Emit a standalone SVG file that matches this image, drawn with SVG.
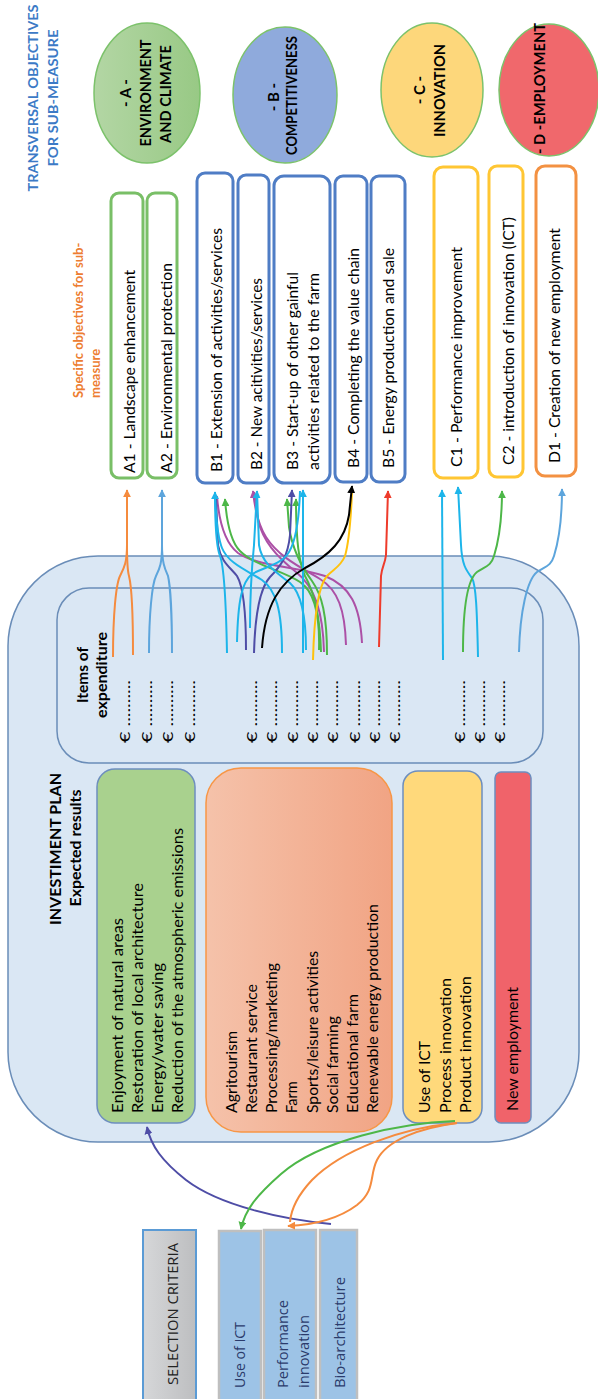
<svg xmlns="http://www.w3.org/2000/svg" width="598" height="1399" viewBox="0 0 598 1399">
<style>
.t{font-family:Lato,"Liberation Sans",sans-serif;fill:#000;font-size:14.5px}
.b{font-weight:bold}
.title{font-family:Lato,"Liberation Sans",sans-serif;font-weight:bold;fill:#3C7AC6;font-size:14px}
.spec{font-family:Lato,"Liberation Sans",sans-serif;font-weight:bold;fill:#ED7D31;font-size:13px}
.ov{font-family:Lato,"Liberation Sans",sans-serif;font-weight:bold;fill:#000;font-size:15px}
.sc{font-family:"Open Sans","Liberation Sans",sans-serif;font-size:14px;fill:#2B3B6B}
.eur{font-family:Lato,"Liberation Sans",sans-serif;font-size:14px;fill:#000}
.boxA{fill:#fff;stroke:#79BF67;stroke-width:3}
.boxB{fill:#fff;stroke:#4F7DC5;stroke-width:3}
.boxC{fill:#fff;stroke:#FFC633;stroke-width:3}
.boxD{fill:#fff;stroke:#F39142;stroke-width:3}
.cont{fill:#DAE7F4;stroke:#6A8DB8;stroke-width:1.5}
.res{stroke:#6D8EBE;stroke-width:1.5}
.crit{fill:#9DC3E6;stroke:#BFBFBF;stroke-width:2.5}
#connectors path{fill:none;stroke-width:2}
</style>
<defs>
<linearGradient id="gA" x1="0" x2="1" y1="0" y2="0"><stop offset="0" stop-color="#B3D6A4"/><stop offset="1" stop-color="#98C985"/></linearGradient>
<linearGradient id="gO" x1="0" x2="1" y1="0" y2="0"><stop offset="0" stop-color="#F5C2AA"/><stop offset="1" stop-color="#F1A484"/></linearGradient>
<linearGradient id="gS" x1="0" x2="1" y1="0" y2="0"><stop offset="0" stop-color="#D6D7D9"/><stop offset="1" stop-color="#BDBEC0"/></linearGradient>
<marker id="mOr" viewBox="0 0 10 10" refX="9" refY="5" markerWidth="8" markerHeight="8" markerUnits="userSpaceOnUse" orient="auto"><path d="M0,0 L10,5 L0,10 z" fill="#F58B3E"/></marker>
<marker id="mLb" viewBox="0 0 10 10" refX="9" refY="5" markerWidth="8" markerHeight="8" markerUnits="userSpaceOnUse" orient="auto"><path d="M0,0 L10,5 L0,10 z" fill="#5DA5DC"/></marker>
<marker id="mCy" viewBox="0 0 10 10" refX="9" refY="5" markerWidth="8" markerHeight="8" markerUnits="userSpaceOnUse" orient="auto"><path d="M0,0 L10,5 L0,10 z" fill="#1DB5EA"/></marker>
<marker id="mGr" viewBox="0 0 10 10" refX="9" refY="5" markerWidth="8" markerHeight="8" markerUnits="userSpaceOnUse" orient="auto"><path d="M0,0 L10,5 L0,10 z" fill="#4DB748"/></marker>
<marker id="mMg" viewBox="0 0 10 10" refX="9" refY="5" markerWidth="8" markerHeight="8" markerUnits="userSpaceOnUse" orient="auto"><path d="M0,0 L10,5 L0,10 z" fill="#AC50A6"/></marker>
<marker id="mIn" viewBox="0 0 10 10" refX="9" refY="5" markerWidth="8" markerHeight="8" markerUnits="userSpaceOnUse" orient="auto"><path d="M0,0 L10,5 L0,10 z" fill="#4E4DA6"/></marker>
<marker id="mBk" viewBox="0 0 10 10" refX="9" refY="5" markerWidth="8" markerHeight="8" markerUnits="userSpaceOnUse" orient="auto"><path d="M0,0 L10,5 L0,10 z" fill="#000"/></marker>
<marker id="mRd" viewBox="0 0 10 10" refX="9" refY="5" markerWidth="8" markerHeight="8" markerUnits="userSpaceOnUse" orient="auto"><path d="M0,0 L10,5 L0,10 z" fill="#EE3B2B"/></marker>
</defs>

<g id="titles">
<text class="title" transform="translate(37.5,98) rotate(-90)" text-anchor="middle" textLength="187" lengthAdjust="spacingAndGlyphs">TRANSVERSAL OBJECTIVES</text>
<text class="title" transform="translate(58,98) rotate(-90)" text-anchor="middle" textLength="137" lengthAdjust="spacingAndGlyphs">FOR SUB-MEASURE</text>
<text class="spec" transform="translate(83,398) rotate(-90)">Specific objectives for sub-</text>
<text class="spec" transform="translate(100,398) rotate(-90)">measure</text>
</g>

<g id="objA">
<ellipse cx="147" cy="93" rx="53" ry="70" fill="url(#gA)" stroke="#7CC26B" stroke-width="1.5"/>
<text class="ov" transform="translate(131,93) rotate(-90)" text-anchor="middle">- A -</text>
<text class="ov" transform="translate(151,93) rotate(-90)" text-anchor="middle" textLength="107" lengthAdjust="spacingAndGlyphs">ENVIRONMENT</text>
<text class="ov" transform="translate(171,94) rotate(-90)" text-anchor="middle" textLength="98" lengthAdjust="spacingAndGlyphs">AND CLIMATE</text>
</g>
<g id="objB">
<ellipse cx="285" cy="95" rx="52" ry="68" fill="#8FAADC" stroke="#7CC26B" stroke-width="1.5"/>
<text class="ov" transform="translate(279,97) rotate(-90)" text-anchor="middle">- B -</text>
<text class="ov" transform="translate(297,95.5) rotate(-90)" text-anchor="middle" textLength="119" lengthAdjust="spacingAndGlyphs">COMPETITIVENESS</text>
</g>
<g id="objC">
<ellipse cx="432" cy="90" rx="51" ry="67" fill="#FDD77B" stroke="#7CC26B" stroke-width="1.5"/>
<text class="ov" transform="translate(425,90) rotate(-90)" text-anchor="middle">- C -</text>
<text class="ov" transform="translate(445,90.5) rotate(-90)" text-anchor="middle" textLength="93" lengthAdjust="spacingAndGlyphs">INNOVATION</text>
</g>
<g id="objD">
<ellipse cx="549" cy="90" rx="50" ry="66" fill="#F0686C" stroke="#7CC26B" stroke-width="1.5"/>
<text class="ov" transform="translate(545,88.5) rotate(-90)" text-anchor="middle" textLength="131" lengthAdjust="spacingAndGlyphs">- D -EMPLOYMENT</text>
</g>

<g id="A1"><rect class="boxA" x="111" y="193" width="32" height="285" rx="8"/>
<text class="t" transform="translate(135,473) rotate(-90)" textLength="203" lengthAdjust="spacingAndGlyphs">A1 - Landscape enhancement</text></g>
<g id="A2"><rect class="boxA" x="147" y="193" width="30" height="285" rx="8"/>
<text class="t" transform="translate(172,473) rotate(-90)" textLength="210" lengthAdjust="spacingAndGlyphs">A2 - Environmental protection</text></g>
<g id="B1"><rect class="boxB" x="197" y="173" width="36" height="310" rx="8"/>
<text class="t" transform="translate(222,472) rotate(-90)" textLength="244" lengthAdjust="spacingAndGlyphs">B1 - Extension of activities/services</text></g>
<g id="B2"><rect class="boxB" x="238" y="175" width="31" height="308" rx="8"/>
<text class="t" transform="translate(262,470) rotate(-90)" textLength="192" lengthAdjust="spacingAndGlyphs">B2 - New acitivities/services</text></g>
<g id="B3"><rect class="boxB" x="274" y="176" width="56" height="307" rx="10"/>
<text class="t" transform="translate(298,470) rotate(-90)" textLength="198" lengthAdjust="spacingAndGlyphs">B3 - Start-up of other gainful</text>
<text class="t" transform="translate(319,470) rotate(-90)" textLength="197" lengthAdjust="spacingAndGlyphs">activities related to the farm</text></g>
<g id="B4"><rect class="boxB" x="335" y="176" width="32" height="306" rx="8"/>
<text class="t" transform="translate(359,468) rotate(-90)" textLength="220" lengthAdjust="spacingAndGlyphs">B4 - Completing the value chain</text></g>
<g id="B5"><rect class="boxB" x="371" y="176" width="34" height="306" rx="8"/>
<text class="t" transform="translate(394,468) rotate(-90)" textLength="220" lengthAdjust="spacingAndGlyphs">B5 - Energy production and sale</text></g>
<g id="C1"><rect class="boxC" x="434" y="167" width="44" height="311" rx="9"/>
<text class="t" transform="translate(462,467) rotate(-90)" textLength="220" lengthAdjust="spacingAndGlyphs">C1 - Performance improvement</text></g>
<g id="C2"><rect class="boxC" x="489" y="166" width="34" height="311" rx="8"/>
<text class="t" transform="translate(514,465) rotate(-90)" textLength="248" lengthAdjust="spacingAndGlyphs">C2 - introduction of innovation (ICT)</text></g>
<g id="D1"><rect class="boxD" x="536" y="166" width="40" height="310" rx="9"/>
<text class="t" transform="translate(560,463) rotate(-90)" textLength="235" lengthAdjust="spacingAndGlyphs">D1 - Creation of new employment</text></g>

<g id="investment-plan">
<rect class="cont" x="8" y="556" width="571" height="586" rx="90"/>
<text class="t b" font-size="16" transform="translate(61,849) rotate(-90)" text-anchor="middle" textLength="152" lengthAdjust="spacingAndGlyphs">INVESTIMENT PLAN</text>
<text class="t b" transform="translate(81,848) rotate(-90)" text-anchor="middle" textLength="117" lengthAdjust="spacingAndGlyphs">Expected results</text>
</g>

<g id="items">
<rect class="cont" x="57" y="588" width="486" height="175" rx="32"/>
<text class="t b" transform="translate(88,675) rotate(-90)" text-anchor="middle" textLength="56" lengthAdjust="spacingAndGlyphs">Items of</text>
<text class="t b" transform="translate(107,675) rotate(-90)" text-anchor="middle" textLength="86" lengthAdjust="spacingAndGlyphs">expenditure</text>
<text class="eur" transform="translate(130,743) rotate(-90)" textLength="63" lengthAdjust="spacingAndGlyphs">€ ..........</text>
<text class="eur" transform="translate(152,743) rotate(-90)" textLength="63" lengthAdjust="spacingAndGlyphs">€ ..........</text>
<text class="eur" transform="translate(173,743) rotate(-90)" textLength="63" lengthAdjust="spacingAndGlyphs">€ ..........</text>
<text class="eur" transform="translate(195,743) rotate(-90)" textLength="63" lengthAdjust="spacingAndGlyphs">€ ..........</text>
<text class="eur" transform="translate(257,743) rotate(-90)" textLength="63" lengthAdjust="spacingAndGlyphs">€ ..........</text>
<text class="eur" transform="translate(277,743) rotate(-90)" textLength="63" lengthAdjust="spacingAndGlyphs">€ ..........</text>
<text class="eur" transform="translate(298,743) rotate(-90)" textLength="63" lengthAdjust="spacingAndGlyphs">€ ..........</text>
<text class="eur" transform="translate(318,743) rotate(-90)" textLength="63" lengthAdjust="spacingAndGlyphs">€ ..........</text>
<text class="eur" transform="translate(338,743) rotate(-90)" textLength="63" lengthAdjust="spacingAndGlyphs">€ ..........</text>
<text class="eur" transform="translate(360,743) rotate(-90)" textLength="63" lengthAdjust="spacingAndGlyphs">€ ..........</text>
<text class="eur" transform="translate(380,743) rotate(-90)" textLength="63" lengthAdjust="spacingAndGlyphs">€ ..........</text>
<text class="eur" transform="translate(400,743) rotate(-90)" textLength="63" lengthAdjust="spacingAndGlyphs">€ ..........</text>
<text class="eur" transform="translate(465,743) rotate(-90)" textLength="63" lengthAdjust="spacingAndGlyphs">€ ..........</text>
<text class="eur" transform="translate(485,743) rotate(-90)" textLength="63" lengthAdjust="spacingAndGlyphs">€ ..........</text>
<text class="eur" transform="translate(505,743) rotate(-90)" textLength="63" lengthAdjust="spacingAndGlyphs">€ ..........</text>
</g>

<g id="resA">
<rect class="res" x="97" y="769" width="98" height="354" rx="18" fill="#A9D18E"/>
<text class="t" transform="translate(123,1113) rotate(-90)" textLength="195" lengthAdjust="spacingAndGlyphs">Enjoyment of natural areas</text>
<text class="t" transform="translate(143,1113) rotate(-90)" textLength="230" lengthAdjust="spacingAndGlyphs">Restoration of local architecture</text>
<text class="t" transform="translate(163,1113) rotate(-90)" textLength="150" lengthAdjust="spacingAndGlyphs">Energy/water saving</text>
<text class="t" transform="translate(183,1113) rotate(-90)" textLength="285" lengthAdjust="spacingAndGlyphs">Reduction of the atmospheric emissions</text>
</g>
<g id="resB">
<rect x="206" y="768" width="186" height="364" rx="35" fill="url(#gO)" stroke="#F79646" stroke-width="1.5"/>
<text class="t" transform="translate(237,1113) rotate(-90)" textLength="82" lengthAdjust="spacingAndGlyphs">Agritourism</text>
<text class="t" transform="translate(257,1113) rotate(-90)" textLength="129" lengthAdjust="spacingAndGlyphs">Restaurant service</text>
<text class="t" transform="translate(277,1113) rotate(-90)" textLength="150" lengthAdjust="spacingAndGlyphs">Processing/marketing</text>
<text class="t" transform="translate(297,1113) rotate(-90)">Farm</text>
<text class="t" transform="translate(318,1113) rotate(-90)" textLength="162" lengthAdjust="spacingAndGlyphs">Sports/leisure activities</text>
<text class="t" transform="translate(338,1113) rotate(-90)" textLength="97" lengthAdjust="spacingAndGlyphs">Social farming</text>
<text class="t" transform="translate(358,1113) rotate(-90)" textLength="119" lengthAdjust="spacingAndGlyphs">Educational farm</text>
<text class="t" transform="translate(378,1113) rotate(-90)" textLength="209" lengthAdjust="spacingAndGlyphs">Renewable energy production</text>
</g>
<g id="resC">
<rect class="res" x="403" y="771" width="79" height="352" rx="15" fill="#FFD97B"/>
<text class="t" transform="translate(430,1113) rotate(-90)" textLength="72" lengthAdjust="spacingAndGlyphs">Use of ICT</text>
<text class="t" transform="translate(451,1113) rotate(-90)" textLength="135" lengthAdjust="spacingAndGlyphs">Process innovation</text>
<text class="t" transform="translate(471,1113) rotate(-90)" textLength="137" lengthAdjust="spacingAndGlyphs">Product innovation</text>
</g>
<g id="resD">
<rect class="res" x="495" y="772" width="36" height="351" rx="6" fill="#F0636A"/>
<text class="t" transform="translate(518,1111) rotate(-90)" textLength="124" lengthAdjust="spacingAndGlyphs">New employment</text>
</g>

<g id="selection-criteria">
<rect x="143" y="1230" width="53" height="180" fill="url(#gS)" stroke="#5B9BD5" stroke-width="2"/>
<text class="sc" style="fill:#222" transform="translate(178,1314) rotate(-90)" text-anchor="middle" textLength="142" lengthAdjust="spacingAndGlyphs">SELECTION CRITERIA</text>
</g>
<g id="crit-ict"><rect class="crit" x="219" y="1231" width="42" height="180"/>
<text class="sc" transform="translate(245,1388) rotate(-90)" textLength="66" lengthAdjust="spacingAndGlyphs">Use of ICT</text></g>
<g id="crit-perf"><rect class="crit" x="264" y="1230" width="52" height="180"/>
<text class="sc" transform="translate(288,1388) rotate(-90)" textLength="88" lengthAdjust="spacingAndGlyphs">Performance</text>
<text class="sc" transform="translate(309,1388) rotate(-90)" textLength="73" lengthAdjust="spacingAndGlyphs">innovation</text></g>
<g id="crit-bio"><rect class="crit" x="320" y="1230" width="37" height="180"/>
<text class="sc" transform="translate(345,1388) rotate(-90)" textLength="111" lengthAdjust="spacingAndGlyphs">Bio-architecture</text></g>

<g id="connectors">
<path d="M113,657 C113,615 116,584 120,576 C124,568 127,563 127,545 L127,490" stroke="#F58B3E" marker-end="url(#mOr)"/>
<path d="M133,655 C133,615 131,584 129,576 C127,569 127,563 127,545" stroke="#F58B3E"/>
<path d="M149,653 C149,615 152,584 156,576 C160,568 162,563 162,545 L162,490" stroke="#5DA5DC" marker-end="url(#mLb)"/>
<path d="M172,653 C172,615 170,584 168,576 C165,569 162,563 162,545" stroke="#5DA5DC"/>
<path d="M379,647 L381,576 C382,566 385,564 386,555 L388,491" stroke="#EE3B2B" marker-end="url(#mRd)"/>
<path d="M443,660 L442,490" stroke="#1DB5EA" marker-end="url(#mCy)"/>
<path d="M478,657 C477,610 476,585 472,578 C466,570 462,565 461,545 L458,487" stroke="#1DB5EA" marker-end="url(#mCy)"/>
<path d="M463,652 C463,610 467,580 477,572 C486,566 491,566 494,556 C499,540 502,515 502,491" stroke="#4DB748" marker-end="url(#mGr)"/>
<path d="M519,652 C520,612 527,580 537,572 C546,566 551,566 554,556 C559,540 562,515 562,489" stroke="#5DA5DC" marker-end="url(#mLb)"/>

<path d="M362,643 C360,605 350,586 325,576 C295,566 256,566 238,553 C225,543 219,522 217,496" stroke="#AC50A6"/>
<path d="M346,645 C345,610 338,590 320,579 C298,566 278,556 266,537 C259,526 255,512 253,491" stroke="#AC50A6" marker-end="url(#mMg)"/>
<path d="M324,652 C323,612 315,587 296,572 C276,556 263,541 258,520 L254,492" stroke="#AC50A6"/>
<path d="M319,650 C320,615 315,592 300,582 C282,570 255,566 240,551 C232,543 227,527 225,499" stroke="#4DB748" marker-end="url(#mGr)"/>
<path d="M327,655 C327,615 322,595 312,581 C301,566 292,547 289,527 L287,499" stroke="#4DB748" marker-end="url(#mGr)"/>
<path d="M321,652 C320,615 313,590 305,576 C299,562 296,542 296,499" stroke="#4DB748" marker-end="url(#mGr)"/>
<path d="M246,650 C246,610 243,586 237,576 C230,567 221,562 218,545 L216,498" stroke="#4E4DA6"/>
<path d="M254,653 C255,615 260,588 270,577 C281,566 288,556 290,535 L292,490" stroke="#4E4DA6" marker-end="url(#mIn)"/>
<path d="M227,653 C226,600 224,566 220,556 C216,546 215,525 215,492" stroke="#1DB5EA" marker-end="url(#mCy)"/>
<path d="M282,653 C282,610 276,590 262,580 C246,570 228,563 222,548 C218,538 216,520 215,495" stroke="#1DB5EA"/>
<path d="M250,628 C250,590 252,565 254,545 L257,491" stroke="#1DB5EA" marker-end="url(#mCy)"/>
<path d="M306,650 C306,612 300,592 290,583 C276,572 262,564 259,545 L257,491" stroke="#1DB5EA"/>
<path d="M237,642 C238,600 242,582 252,574 C265,567 279,565 287,555 C295,545 299,522 300,491" stroke="#1DB5EA"/>
<path d="M303,653 L303,490" stroke="#1DB5EA" marker-end="url(#mCy)"/>
<path d="M313,660 C314,620 318,586 327,576 C334,569 341,566 345,556 C349,542 351,516 352,492" stroke="#FFC20E"/>
<path d="M262,648 C265,605 280,582 305,568 C330,555 345,540 349,515 L352,486" stroke="#000" marker-end="url(#mBk)"/>

<path d="M331,1224 C282,1219 220,1206 186,1180 C162,1161 151,1146 147,1127" stroke="#4E4DA6" marker-end="url(#mIn)"/>
<path d="M455,1121 C400,1123 320,1140 281,1174 C256,1196 245,1210 241,1229" stroke="#4DB748" marker-end="url(#mGr)"/>
<path d="M457,1123 C420,1128 387,1140 377,1160 C369,1176 376,1190 357,1205 C337,1220 310,1225 288,1226" stroke="#F58B3E" marker-end="url(#mOr)"/>
<path d="M457,1123 C400,1128 342,1150 312,1180 C297,1196 291,1210 290,1222" stroke="#F58B3E"/>
</g>
</svg>
